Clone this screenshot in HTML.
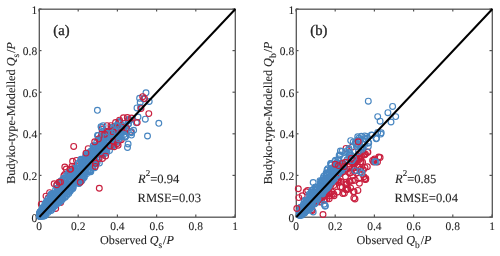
<!DOCTYPE html>
<html><head><meta charset="utf-8"><style>
html,body{margin:0;padding:0;background:#fff;width:500px;height:256px;overflow:hidden}
svg{display:block;filter:blur(0.45px)}
text{font-family:"Liberation Serif",serif;fill:#262626;text-rendering:geometricPrecision;stroke:#262626;stroke-width:0.1px}
.tk{font-size:11.5px}
.lb{font-size:12.2px}
.pl{font-size:14.6px;stroke-width:0.35px}
.st{font-size:12.6px}
</style></head><body>
<svg width="500" height="256" viewBox="0 0 500 256">
<rect x="39.3" y="9.2" width="196" height="208" fill="none" stroke="#555" stroke-width="1.3"/>
<line x1="39.0" y1="217" x2="39.0" y2="214.5" stroke="#555" stroke-width="1.2"/>
<line x1="39.0" y1="9" x2="39.0" y2="11.5" stroke="#555" stroke-width="1.2"/>
<line x1="39" y1="217.0" x2="41.5" y2="217.0" stroke="#555" stroke-width="1.2"/>
<line x1="235" y1="217.0" x2="232.5" y2="217.0" stroke="#555" stroke-width="1.2"/>
<text x="39.0" y="230.3" text-anchor="middle" class="tk">0</text>
<text x="37.2" y="221.6" text-anchor="end" class="tk">0</text>
<line x1="78.2" y1="217" x2="78.2" y2="214.5" stroke="#555" stroke-width="1.2"/>
<line x1="78.2" y1="9" x2="78.2" y2="11.5" stroke="#555" stroke-width="1.2"/>
<line x1="39" y1="175.4" x2="41.5" y2="175.4" stroke="#555" stroke-width="1.2"/>
<line x1="235" y1="175.4" x2="232.5" y2="175.4" stroke="#555" stroke-width="1.2"/>
<text x="78.2" y="230.3" text-anchor="middle" class="tk">0.2</text>
<text x="37.2" y="180.0" text-anchor="end" class="tk">0.2</text>
<line x1="117.4" y1="217" x2="117.4" y2="214.5" stroke="#555" stroke-width="1.2"/>
<line x1="117.4" y1="9" x2="117.4" y2="11.5" stroke="#555" stroke-width="1.2"/>
<line x1="39" y1="133.8" x2="41.5" y2="133.8" stroke="#555" stroke-width="1.2"/>
<line x1="235" y1="133.8" x2="232.5" y2="133.8" stroke="#555" stroke-width="1.2"/>
<text x="117.4" y="230.3" text-anchor="middle" class="tk">0.4</text>
<text x="37.2" y="138.4" text-anchor="end" class="tk">0.4</text>
<line x1="156.6" y1="217" x2="156.6" y2="214.5" stroke="#555" stroke-width="1.2"/>
<line x1="156.6" y1="9" x2="156.6" y2="11.5" stroke="#555" stroke-width="1.2"/>
<line x1="39" y1="92.2" x2="41.5" y2="92.2" stroke="#555" stroke-width="1.2"/>
<line x1="235" y1="92.2" x2="232.5" y2="92.2" stroke="#555" stroke-width="1.2"/>
<text x="156.6" y="230.3" text-anchor="middle" class="tk">0.6</text>
<text x="37.2" y="96.8" text-anchor="end" class="tk">0.6</text>
<line x1="195.8" y1="217" x2="195.8" y2="214.5" stroke="#555" stroke-width="1.2"/>
<line x1="195.8" y1="9" x2="195.8" y2="11.5" stroke="#555" stroke-width="1.2"/>
<line x1="39" y1="50.6" x2="41.5" y2="50.6" stroke="#555" stroke-width="1.2"/>
<line x1="235" y1="50.6" x2="232.5" y2="50.6" stroke="#555" stroke-width="1.2"/>
<text x="195.8" y="230.3" text-anchor="middle" class="tk">0.8</text>
<text x="37.2" y="55.2" text-anchor="end" class="tk">0.8</text>
<line x1="235.0" y1="217" x2="235.0" y2="214.5" stroke="#555" stroke-width="1.2"/>
<line x1="235.0" y1="9" x2="235.0" y2="11.5" stroke="#555" stroke-width="1.2"/>
<line x1="39" y1="9.0" x2="41.5" y2="9.0" stroke="#555" stroke-width="1.2"/>
<line x1="235" y1="9.0" x2="232.5" y2="9.0" stroke="#555" stroke-width="1.2"/>
<text x="235.0" y="230.3" text-anchor="middle" class="tk">1</text>
<text x="37.2" y="13.6" text-anchor="end" class="tk">1</text>
<g fill="none" stroke="#c9203f" stroke-width="1.15">
<circle cx="48.2" cy="197.9" r="2.9"/>
<circle cx="52.7" cy="194.5" r="2.9"/>
<circle cx="119.3" cy="140.2" r="2.9"/>
<circle cx="60.9" cy="184.6" r="2.9"/>
<circle cx="121.3" cy="139.7" r="2.9"/>
<circle cx="55.7" cy="208.4" r="2.9"/>
<circle cx="39.8" cy="216.2" r="2.9"/>
<circle cx="73.6" cy="168.4" r="2.9"/>
<circle cx="49.8" cy="199.6" r="2.9"/>
<circle cx="88.2" cy="148.6" r="2.9"/>
<circle cx="72.0" cy="166.3" r="2.9"/>
<circle cx="71.4" cy="171.5" r="2.9"/>
<circle cx="63.9" cy="175.7" r="2.9"/>
<circle cx="62.1" cy="180.5" r="2.9"/>
<circle cx="44.0" cy="209.6" r="2.9"/>
<circle cx="99.3" cy="188.2" r="2.9"/>
<circle cx="73.7" cy="146.4" r="2.9"/>
<circle cx="72.6" cy="161.2" r="2.9"/>
<circle cx="76.5" cy="160.4" r="2.9"/>
<circle cx="64.8" cy="167.0" r="2.9"/>
<circle cx="66.3" cy="169.0" r="2.9"/>
<circle cx="64.8" cy="174.5" r="2.9"/>
<circle cx="54.2" cy="183.8" r="2.9"/>
<circle cx="46.0" cy="196.1" r="2.9"/>
<circle cx="49.6" cy="192.6" r="2.9"/>
<circle cx="41.3" cy="204.3" r="2.9"/>
<circle cx="63.6" cy="194.9" r="2.9"/>
<circle cx="60.7" cy="202.5" r="2.9"/>
</g>
<g fill="none" stroke="#4886c1" stroke-width="1.15">
<circle cx="103.7" cy="146.2" r="2.9"/>
<circle cx="123.7" cy="131.4" r="2.9"/>
<circle cx="101.4" cy="136.9" r="2.9"/>
<circle cx="51.1" cy="194.1" r="2.9"/>
<circle cx="103.9" cy="151.1" r="2.9"/>
<circle cx="90.1" cy="156.9" r="2.9"/>
<circle cx="93.3" cy="155.8" r="2.9"/>
<circle cx="69.3" cy="180.7" r="2.9"/>
<circle cx="69.4" cy="186.9" r="2.9"/>
<circle cx="88.2" cy="158.4" r="2.9"/>
<circle cx="83.6" cy="167.2" r="2.9"/>
<circle cx="80.7" cy="160.2" r="2.9"/>
<circle cx="105.5" cy="138.3" r="2.9"/>
<circle cx="95.6" cy="163.1" r="2.9"/>
<circle cx="90.9" cy="151.3" r="2.9"/>
<circle cx="64.3" cy="192.2" r="2.9"/>
<circle cx="104.3" cy="152.5" r="2.9"/>
<circle cx="69.9" cy="185.4" r="2.9"/>
<circle cx="48.7" cy="204.1" r="2.9"/>
<circle cx="115.3" cy="127.7" r="2.9"/>
<circle cx="118.7" cy="130.0" r="2.9"/>
<circle cx="51.2" cy="210.4" r="2.9"/>
<circle cx="40.5" cy="211.6" r="2.9"/>
<circle cx="53.2" cy="206.6" r="2.9"/>
<circle cx="88.1" cy="161.0" r="2.9"/>
<circle cx="86.2" cy="164.9" r="2.9"/>
<circle cx="100.1" cy="146.6" r="2.9"/>
<circle cx="43.3" cy="216.2" r="2.9"/>
<circle cx="45.5" cy="205.6" r="2.9"/>
<circle cx="76.7" cy="171.7" r="2.9"/>
<circle cx="65.5" cy="193.6" r="2.9"/>
<circle cx="113.2" cy="138.0" r="2.9"/>
<circle cx="67.9" cy="174.5" r="2.9"/>
<circle cx="41.7" cy="212.6" r="2.9"/>
<circle cx="105.0" cy="133.0" r="2.9"/>
<circle cx="40.4" cy="211.8" r="2.9"/>
<circle cx="89.9" cy="163.4" r="2.9"/>
<circle cx="87.9" cy="171.6" r="2.9"/>
<circle cx="80.4" cy="166.6" r="2.9"/>
<circle cx="60.1" cy="200.0" r="2.9"/>
<circle cx="124.1" cy="129.2" r="2.9"/>
<circle cx="114.9" cy="130.1" r="2.9"/>
<circle cx="61.6" cy="198.9" r="2.9"/>
<circle cx="79.4" cy="183.1" r="2.9"/>
<circle cx="73.3" cy="173.9" r="2.9"/>
<circle cx="48.2" cy="198.9" r="2.9"/>
<circle cx="58.5" cy="196.3" r="2.9"/>
<circle cx="50.0" cy="203.8" r="2.9"/>
<circle cx="69.2" cy="181.8" r="2.9"/>
<circle cx="71.4" cy="186.1" r="2.9"/>
<circle cx="53.1" cy="200.3" r="2.9"/>
<circle cx="116.4" cy="137.1" r="2.9"/>
<circle cx="97.4" cy="150.8" r="2.9"/>
<circle cx="44.1" cy="213.7" r="2.9"/>
<circle cx="87.6" cy="157.3" r="2.9"/>
<circle cx="111.6" cy="146.6" r="2.9"/>
<circle cx="70.9" cy="187.3" r="2.9"/>
<circle cx="58.1" cy="188.4" r="2.9"/>
<circle cx="42.5" cy="212.2" r="2.9"/>
<circle cx="109.2" cy="135.8" r="2.9"/>
<circle cx="52.3" cy="201.9" r="2.9"/>
<circle cx="118.1" cy="134.7" r="2.9"/>
<circle cx="108.3" cy="140.0" r="2.9"/>
<circle cx="48.0" cy="212.6" r="2.9"/>
<circle cx="74.7" cy="173.1" r="2.9"/>
<circle cx="102.1" cy="150.3" r="2.9"/>
<circle cx="75.2" cy="176.2" r="2.9"/>
<circle cx="61.0" cy="185.4" r="2.9"/>
<circle cx="111.3" cy="127.5" r="2.9"/>
<circle cx="96.6" cy="152.3" r="2.9"/>
<circle cx="112.2" cy="130.1" r="2.9"/>
<circle cx="86.1" cy="163.9" r="2.9"/>
<circle cx="99.2" cy="154.9" r="2.9"/>
<circle cx="87.6" cy="162.7" r="2.9"/>
<circle cx="63.1" cy="193.2" r="2.9"/>
<circle cx="106.1" cy="147.9" r="2.9"/>
<circle cx="87.7" cy="153.3" r="2.9"/>
<circle cx="103.0" cy="154.7" r="2.9"/>
<circle cx="40.2" cy="215.9" r="2.9"/>
<circle cx="75.6" cy="179.4" r="2.9"/>
<circle cx="119.0" cy="136.2" r="2.9"/>
<circle cx="118.6" cy="122.6" r="2.9"/>
<circle cx="52.8" cy="201.9" r="2.9"/>
<circle cx="55.0" cy="202.4" r="2.9"/>
<circle cx="45.6" cy="214.5" r="2.9"/>
<circle cx="87.3" cy="154.9" r="2.9"/>
<circle cx="112.6" cy="141.7" r="2.9"/>
<circle cx="45.5" cy="205.3" r="2.9"/>
<circle cx="84.0" cy="164.8" r="2.9"/>
<circle cx="80.0" cy="172.0" r="2.9"/>
<circle cx="98.4" cy="152.3" r="2.9"/>
<circle cx="102.1" cy="154.5" r="2.9"/>
<circle cx="96.8" cy="142.0" r="2.9"/>
<circle cx="85.6" cy="165.8" r="2.9"/>
<circle cx="67.1" cy="193.8" r="2.9"/>
<circle cx="93.1" cy="156.8" r="2.9"/>
<circle cx="58.9" cy="202.6" r="2.9"/>
<circle cx="49.7" cy="209.8" r="2.9"/>
<circle cx="109.7" cy="144.9" r="2.9"/>
<circle cx="46.9" cy="211.1" r="2.9"/>
<circle cx="129.9" cy="120.2" r="2.9"/>
<circle cx="116.8" cy="141.4" r="2.9"/>
<circle cx="56.1" cy="199.0" r="2.9"/>
<circle cx="118.7" cy="122.3" r="2.9"/>
<circle cx="39.8" cy="213.0" r="2.9"/>
<circle cx="98.3" cy="148.3" r="2.9"/>
<circle cx="75.0" cy="168.3" r="2.9"/>
<circle cx="42.7" cy="215.5" r="2.9"/>
<circle cx="114.6" cy="142.5" r="2.9"/>
<circle cx="68.8" cy="193.6" r="2.9"/>
<circle cx="84.8" cy="169.5" r="2.9"/>
<circle cx="87.1" cy="167.6" r="2.9"/>
<circle cx="60.8" cy="196.4" r="2.9"/>
<circle cx="61.3" cy="185.5" r="2.9"/>
<circle cx="103.2" cy="149.4" r="2.9"/>
<circle cx="84.9" cy="162.7" r="2.9"/>
<circle cx="68.4" cy="187.0" r="2.9"/>
<circle cx="84.2" cy="176.8" r="2.9"/>
<circle cx="78.8" cy="178.9" r="2.9"/>
<circle cx="59.6" cy="196.2" r="2.9"/>
<circle cx="106.8" cy="151.1" r="2.9"/>
<circle cx="92.6" cy="160.1" r="2.9"/>
<circle cx="39.8" cy="216.2" r="2.9"/>
<circle cx="62.5" cy="195.8" r="2.9"/>
<circle cx="70.7" cy="185.3" r="2.9"/>
<circle cx="106.5" cy="131.4" r="2.9"/>
<circle cx="95.3" cy="147.6" r="2.9"/>
<circle cx="92.9" cy="154.7" r="2.9"/>
<circle cx="48.9" cy="200.4" r="2.9"/>
<circle cx="117.0" cy="141.1" r="2.9"/>
<circle cx="100.8" cy="150.1" r="2.9"/>
<circle cx="93.3" cy="159.5" r="2.9"/>
<circle cx="97.6" cy="150.7" r="2.9"/>
<circle cx="53.5" cy="198.4" r="2.9"/>
<circle cx="61.1" cy="201.0" r="2.9"/>
<circle cx="94.6" cy="159.8" r="2.9"/>
<circle cx="102.4" cy="144.4" r="2.9"/>
<circle cx="121.2" cy="131.7" r="2.9"/>
<circle cx="103.0" cy="136.0" r="2.9"/>
<circle cx="67.9" cy="186.5" r="2.9"/>
<circle cx="98.7" cy="145.1" r="2.9"/>
<circle cx="81.0" cy="159.2" r="2.9"/>
<circle cx="73.2" cy="187.8" r="2.9"/>
<circle cx="123.4" cy="128.8" r="2.9"/>
<circle cx="77.0" cy="168.3" r="2.9"/>
<circle cx="106.7" cy="145.2" r="2.9"/>
<circle cx="39.8" cy="214.7" r="2.9"/>
<circle cx="85.5" cy="163.2" r="2.9"/>
<circle cx="113.8" cy="133.3" r="2.9"/>
<circle cx="96.5" cy="163.8" r="2.9"/>
<circle cx="81.3" cy="180.5" r="2.9"/>
<circle cx="100.0" cy="147.0" r="2.9"/>
<circle cx="103.6" cy="138.9" r="2.9"/>
<circle cx="86.2" cy="154.9" r="2.9"/>
<circle cx="56.1" cy="203.4" r="2.9"/>
<circle cx="64.8" cy="178.4" r="2.9"/>
<circle cx="61.1" cy="181.6" r="2.9"/>
<circle cx="122.6" cy="125.6" r="2.9"/>
<circle cx="84.5" cy="160.2" r="2.9"/>
<circle cx="72.2" cy="177.1" r="2.9"/>
<circle cx="82.7" cy="170.4" r="2.9"/>
<circle cx="111.3" cy="131.1" r="2.9"/>
<circle cx="78.3" cy="163.1" r="2.9"/>
<circle cx="114.8" cy="127.2" r="2.9"/>
<circle cx="80.9" cy="174.0" r="2.9"/>
<circle cx="92.1" cy="162.0" r="2.9"/>
<circle cx="119.9" cy="133.7" r="2.9"/>
<circle cx="55.5" cy="196.0" r="2.9"/>
<circle cx="43.4" cy="209.9" r="2.9"/>
<circle cx="59.9" cy="190.7" r="2.9"/>
<circle cx="70.1" cy="190.1" r="2.9"/>
<circle cx="81.2" cy="173.4" r="2.9"/>
<circle cx="56.3" cy="196.6" r="2.9"/>
<circle cx="112.0" cy="143.7" r="2.9"/>
<circle cx="69.4" cy="190.0" r="2.9"/>
<circle cx="79.4" cy="181.8" r="2.9"/>
<circle cx="68.4" cy="188.3" r="2.9"/>
<circle cx="95.1" cy="151.7" r="2.9"/>
<circle cx="70.0" cy="179.7" r="2.9"/>
<circle cx="62.8" cy="191.8" r="2.9"/>
<circle cx="48.2" cy="208.9" r="2.9"/>
<circle cx="125.8" cy="129.8" r="2.9"/>
<circle cx="116.7" cy="141.6" r="2.9"/>
<circle cx="115.7" cy="126.3" r="2.9"/>
<circle cx="53.0" cy="207.0" r="2.9"/>
<circle cx="52.6" cy="193.4" r="2.9"/>
<circle cx="108.0" cy="134.6" r="2.9"/>
<circle cx="65.2" cy="197.2" r="2.9"/>
<circle cx="122.2" cy="128.3" r="2.9"/>
<circle cx="128.4" cy="123.8" r="2.9"/>
<circle cx="74.7" cy="181.0" r="2.9"/>
<circle cx="48.5" cy="202.3" r="2.9"/>
<circle cx="60.6" cy="189.0" r="2.9"/>
<circle cx="84.3" cy="165.2" r="2.9"/>
<circle cx="108.8" cy="140.6" r="2.9"/>
<circle cx="55.0" cy="203.4" r="2.9"/>
<circle cx="80.4" cy="176.9" r="2.9"/>
<circle cx="113.5" cy="144.9" r="2.9"/>
<circle cx="69.7" cy="191.1" r="2.9"/>
<circle cx="81.8" cy="170.8" r="2.9"/>
<circle cx="84.0" cy="169.6" r="2.9"/>
<circle cx="84.7" cy="173.8" r="2.9"/>
<circle cx="43.2" cy="210.0" r="2.9"/>
<circle cx="109.5" cy="136.2" r="2.9"/>
<circle cx="53.5" cy="202.9" r="2.9"/>
<circle cx="57.2" cy="197.9" r="2.9"/>
<circle cx="83.0" cy="166.4" r="2.9"/>
<circle cx="100.7" cy="152.2" r="2.9"/>
<circle cx="118.4" cy="123.6" r="2.9"/>
<circle cx="78.4" cy="180.5" r="2.9"/>
<circle cx="50.0" cy="201.3" r="2.9"/>
<circle cx="129.0" cy="119.5" r="2.9"/>
<circle cx="83.6" cy="161.3" r="2.9"/>
<circle cx="45.3" cy="211.3" r="2.9"/>
<circle cx="59.9" cy="183.9" r="2.9"/>
<circle cx="69.1" cy="178.7" r="2.9"/>
<circle cx="93.0" cy="156.9" r="2.9"/>
<circle cx="117.6" cy="137.4" r="2.9"/>
<circle cx="124.0" cy="123.5" r="2.9"/>
<circle cx="73.4" cy="185.8" r="2.9"/>
<circle cx="77.1" cy="181.2" r="2.9"/>
<circle cx="75.2" cy="181.6" r="2.9"/>
<circle cx="66.5" cy="175.5" r="2.9"/>
<circle cx="55.5" cy="195.7" r="2.9"/>
<circle cx="57.0" cy="188.2" r="2.9"/>
<circle cx="91.7" cy="164.2" r="2.9"/>
<circle cx="93.0" cy="153.7" r="2.9"/>
<circle cx="45.9" cy="206.4" r="2.9"/>
<circle cx="97.0" cy="157.7" r="2.9"/>
<circle cx="49.2" cy="208.7" r="2.9"/>
<circle cx="70.2" cy="186.1" r="2.9"/>
<circle cx="82.1" cy="166.5" r="2.9"/>
<circle cx="83.0" cy="160.4" r="2.9"/>
<circle cx="80.1" cy="174.5" r="2.9"/>
<circle cx="128.2" cy="119.8" r="2.9"/>
<circle cx="48.1" cy="209.9" r="2.9"/>
<circle cx="50.1" cy="198.8" r="2.9"/>
<circle cx="85.6" cy="165.4" r="2.9"/>
<circle cx="41.7" cy="215.9" r="2.9"/>
<circle cx="79.0" cy="183.4" r="2.9"/>
<circle cx="88.6" cy="157.9" r="2.9"/>
<circle cx="113.8" cy="145.5" r="2.9"/>
<circle cx="46.6" cy="201.1" r="2.9"/>
<circle cx="53.0" cy="194.3" r="2.9"/>
<circle cx="82.2" cy="162.9" r="2.9"/>
<circle cx="112.9" cy="127.2" r="2.9"/>
<circle cx="103.9" cy="146.0" r="2.9"/>
<circle cx="81.8" cy="180.7" r="2.9"/>
<circle cx="63.5" cy="178.3" r="2.9"/>
<circle cx="39.8" cy="213.2" r="2.9"/>
<circle cx="53.2" cy="205.7" r="2.9"/>
<circle cx="69.4" cy="173.8" r="2.9"/>
<circle cx="86.0" cy="159.9" r="2.9"/>
<circle cx="75.9" cy="171.5" r="2.9"/>
<circle cx="100.7" cy="153.7" r="2.9"/>
<circle cx="72.7" cy="188.8" r="2.9"/>
<circle cx="69.6" cy="185.2" r="2.9"/>
<circle cx="99.7" cy="140.5" r="2.9"/>
<circle cx="93.1" cy="147.7" r="2.9"/>
<circle cx="113.7" cy="142.1" r="2.9"/>
<circle cx="102.1" cy="147.3" r="2.9"/>
<circle cx="60.9" cy="181.0" r="2.9"/>
<circle cx="105.4" cy="150.5" r="2.9"/>
<circle cx="117.7" cy="138.1" r="2.9"/>
<circle cx="94.8" cy="160.2" r="2.9"/>
<circle cx="114.1" cy="127.7" r="2.9"/>
<circle cx="90.6" cy="161.7" r="2.9"/>
<circle cx="47.1" cy="202.0" r="2.9"/>
<circle cx="54.4" cy="206.0" r="2.9"/>
<circle cx="62.8" cy="187.3" r="2.9"/>
<circle cx="81.9" cy="179.3" r="2.9"/>
<circle cx="75.1" cy="170.0" r="2.9"/>
<circle cx="44.9" cy="206.5" r="2.9"/>
<circle cx="105.7" cy="133.2" r="2.9"/>
<circle cx="65.3" cy="194.0" r="2.9"/>
<circle cx="84.3" cy="171.1" r="2.9"/>
<circle cx="122.1" cy="125.5" r="2.9"/>
<circle cx="39.8" cy="212.3" r="2.9"/>
<circle cx="119.6" cy="134.6" r="2.9"/>
<circle cx="111.3" cy="140.1" r="2.9"/>
<circle cx="83.0" cy="162.5" r="2.9"/>
<circle cx="50.7" cy="195.3" r="2.9"/>
<circle cx="94.2" cy="153.4" r="2.9"/>
<circle cx="120.8" cy="133.0" r="2.9"/>
<circle cx="104.3" cy="147.4" r="2.9"/>
<circle cx="101.1" cy="154.8" r="2.9"/>
<circle cx="109.0" cy="140.6" r="2.9"/>
<circle cx="106.4" cy="150.9" r="2.9"/>
<circle cx="84.4" cy="168.4" r="2.9"/>
<circle cx="39.8" cy="213.4" r="2.9"/>
<circle cx="69.7" cy="173.2" r="2.9"/>
<circle cx="42.0" cy="209.1" r="2.9"/>
<circle cx="72.4" cy="178.8" r="2.9"/>
<circle cx="41.8" cy="216.2" r="2.9"/>
<circle cx="97.0" cy="150.3" r="2.9"/>
<circle cx="113.6" cy="143.7" r="2.9"/>
<circle cx="98.3" cy="158.0" r="2.9"/>
<circle cx="90.4" cy="170.6" r="2.9"/>
<circle cx="107.7" cy="135.5" r="2.9"/>
<circle cx="83.1" cy="177.4" r="2.9"/>
<circle cx="57.4" cy="192.5" r="2.9"/>
<circle cx="46.7" cy="202.3" r="2.9"/>
<circle cx="102.1" cy="145.2" r="2.9"/>
<circle cx="108.5" cy="141.4" r="2.9"/>
<circle cx="114.3" cy="131.3" r="2.9"/>
<circle cx="116.9" cy="132.3" r="2.9"/>
<circle cx="92.7" cy="167.4" r="2.9"/>
<circle cx="84.8" cy="171.9" r="2.9"/>
<circle cx="64.5" cy="196.8" r="2.9"/>
<circle cx="114.0" cy="141.7" r="2.9"/>
<circle cx="88.3" cy="171.4" r="2.9"/>
<circle cx="81.1" cy="171.1" r="2.9"/>
<circle cx="73.3" cy="180.6" r="2.9"/>
<circle cx="82.6" cy="163.7" r="2.9"/>
<circle cx="102.3" cy="139.6" r="2.9"/>
<circle cx="89.9" cy="171.7" r="2.9"/>
<circle cx="43.1" cy="208.3" r="2.9"/>
<circle cx="94.8" cy="149.5" r="2.9"/>
<circle cx="112.4" cy="140.6" r="2.9"/>
<circle cx="103.7" cy="141.1" r="2.9"/>
<circle cx="85.8" cy="161.5" r="2.9"/>
<circle cx="61.1" cy="183.4" r="2.9"/>
<circle cx="78.8" cy="167.7" r="2.9"/>
<circle cx="53.9" cy="203.8" r="2.9"/>
<circle cx="114.0" cy="141.7" r="2.9"/>
<circle cx="54.9" cy="197.1" r="2.9"/>
<circle cx="88.3" cy="159.5" r="2.9"/>
<circle cx="101.4" cy="136.9" r="2.9"/>
<circle cx="72.7" cy="182.6" r="2.9"/>
<circle cx="87.1" cy="161.3" r="2.9"/>
<circle cx="85.5" cy="168.6" r="2.9"/>
<circle cx="69.8" cy="179.4" r="2.9"/>
<circle cx="115.3" cy="131.1" r="2.9"/>
<circle cx="44.8" cy="215.8" r="2.9"/>
<circle cx="92.2" cy="154.0" r="2.9"/>
<circle cx="66.1" cy="177.9" r="2.9"/>
<circle cx="51.3" cy="196.0" r="2.9"/>
<circle cx="61.2" cy="197.5" r="2.9"/>
<circle cx="99.2" cy="153.4" r="2.9"/>
<circle cx="85.1" cy="162.2" r="2.9"/>
<circle cx="112.6" cy="145.1" r="2.9"/>
<circle cx="55.8" cy="201.1" r="2.9"/>
<circle cx="79.5" cy="180.3" r="2.9"/>
<circle cx="54.2" cy="196.1" r="2.9"/>
<circle cx="57.1" cy="200.9" r="2.9"/>
<circle cx="118.9" cy="127.6" r="2.9"/>
<circle cx="96.1" cy="161.4" r="2.9"/>
<circle cx="67.2" cy="189.2" r="2.9"/>
<circle cx="128.9" cy="120.5" r="2.9"/>
<circle cx="46.9" cy="202.4" r="2.9"/>
<circle cx="102.9" cy="137.0" r="2.9"/>
<circle cx="48.1" cy="211.2" r="2.9"/>
<circle cx="103.0" cy="150.9" r="2.9"/>
<circle cx="90.1" cy="164.0" r="2.9"/>
<circle cx="86.2" cy="153.6" r="2.9"/>
<circle cx="65.0" cy="185.7" r="2.9"/>
<circle cx="82.8" cy="178.4" r="2.9"/>
<circle cx="40.1" cy="213.8" r="2.9"/>
<circle cx="90.5" cy="170.1" r="2.9"/>
<circle cx="76.9" cy="181.5" r="2.9"/>
<circle cx="85.6" cy="158.0" r="2.9"/>
<circle cx="101.0" cy="139.1" r="2.9"/>
<circle cx="93.1" cy="153.2" r="2.9"/>
<circle cx="61.0" cy="193.6" r="2.9"/>
<circle cx="102.7" cy="143.9" r="2.9"/>
<circle cx="68.5" cy="191.6" r="2.9"/>
<circle cx="48.9" cy="210.6" r="2.9"/>
<circle cx="53.3" cy="207.0" r="2.9"/>
<circle cx="101.3" cy="144.8" r="2.9"/>
<circle cx="50.4" cy="206.6" r="2.9"/>
<circle cx="102.3" cy="141.0" r="2.9"/>
<circle cx="48.5" cy="208.6" r="2.9"/>
<circle cx="85.7" cy="156.3" r="2.9"/>
<circle cx="58.5" cy="202.8" r="2.9"/>
<circle cx="40.5" cy="213.5" r="2.9"/>
<circle cx="123.1" cy="130.3" r="2.9"/>
<circle cx="39.8" cy="215.5" r="2.9"/>
<circle cx="64.1" cy="180.9" r="2.9"/>
<circle cx="65.8" cy="178.3" r="2.9"/>
<circle cx="95.6" cy="149.4" r="2.9"/>
<circle cx="79.3" cy="178.0" r="2.9"/>
<circle cx="58.1" cy="203.3" r="2.9"/>
<circle cx="64.8" cy="179.6" r="2.9"/>
<circle cx="40.7" cy="216.2" r="2.9"/>
<circle cx="119.3" cy="133.7" r="2.9"/>
<circle cx="75.5" cy="174.4" r="2.9"/>
<circle cx="42.9" cy="210.5" r="2.9"/>
<circle cx="97.8" cy="148.5" r="2.9"/>
<circle cx="58.9" cy="193.4" r="2.9"/>
<circle cx="59.2" cy="192.0" r="2.9"/>
<circle cx="94.3" cy="151.7" r="2.9"/>
<circle cx="85.3" cy="171.7" r="2.9"/>
<circle cx="55.6" cy="189.7" r="2.9"/>
<circle cx="74.6" cy="170.9" r="2.9"/>
<circle cx="96.1" cy="149.3" r="2.9"/>
<circle cx="47.9" cy="201.1" r="2.9"/>
<circle cx="40.0" cy="215.5" r="2.9"/>
<circle cx="107.9" cy="137.8" r="2.9"/>
<circle cx="44.3" cy="208.4" r="2.9"/>
<circle cx="95.1" cy="145.8" r="2.9"/>
<circle cx="75.4" cy="179.8" r="2.9"/>
<circle cx="68.4" cy="172.7" r="2.9"/>
<circle cx="45.0" cy="214.5" r="2.9"/>
<circle cx="128.5" cy="124.0" r="2.9"/>
<circle cx="86.9" cy="162.8" r="2.9"/>
<circle cx="61.6" cy="199.2" r="2.9"/>
<circle cx="39.8" cy="216.2" r="2.9"/>
<circle cx="78.7" cy="183.1" r="2.9"/>
<circle cx="66.5" cy="177.4" r="2.9"/>
<circle cx="56.2" cy="199.2" r="2.9"/>
<circle cx="81.7" cy="177.2" r="2.9"/>
<circle cx="67.0" cy="188.8" r="2.9"/>
<circle cx="62.6" cy="199.0" r="2.9"/>
<circle cx="62.1" cy="195.8" r="2.9"/>
<circle cx="111.5" cy="145.2" r="2.9"/>
<circle cx="91.4" cy="158.4" r="2.9"/>
<circle cx="65.8" cy="181.3" r="2.9"/>
<circle cx="99.5" cy="142.6" r="2.9"/>
<circle cx="59.9" cy="182.3" r="2.9"/>
<circle cx="104.8" cy="144.2" r="2.9"/>
<circle cx="39.8" cy="213.2" r="2.9"/>
<circle cx="46.4" cy="205.9" r="2.9"/>
<circle cx="39.8" cy="216.2" r="2.9"/>
<circle cx="39.8" cy="216.1" r="2.9"/>
<circle cx="80.9" cy="170.8" r="2.9"/>
<circle cx="50.1" cy="199.7" r="2.9"/>
<circle cx="57.8" cy="190.3" r="2.9"/>
<circle cx="121.3" cy="131.3" r="2.9"/>
<circle cx="50.2" cy="208.2" r="2.9"/>
<circle cx="119.8" cy="121.4" r="2.9"/>
<circle cx="56.6" cy="185.7" r="2.9"/>
<circle cx="115.6" cy="134.7" r="2.9"/>
<circle cx="110.4" cy="133.0" r="2.9"/>
<circle cx="52.0" cy="205.8" r="2.9"/>
<circle cx="116.3" cy="127.6" r="2.9"/>
<circle cx="80.5" cy="173.8" r="2.9"/>
<circle cx="72.3" cy="183.4" r="2.9"/>
<circle cx="112.5" cy="137.6" r="2.9"/>
<circle cx="53.8" cy="195.6" r="2.9"/>
<circle cx="106.1" cy="146.9" r="2.9"/>
<circle cx="100.0" cy="142.4" r="2.9"/>
<circle cx="86.6" cy="173.7" r="2.9"/>
<circle cx="39.8" cy="216.2" r="2.9"/>
<circle cx="103.2" cy="137.0" r="2.9"/>
<circle cx="66.9" cy="195.3" r="2.9"/>
<circle cx="56.9" cy="203.0" r="2.9"/>
<circle cx="75.0" cy="169.5" r="2.9"/>
<circle cx="61.7" cy="185.5" r="2.9"/>
<circle cx="72.1" cy="187.8" r="2.9"/>
<circle cx="79.2" cy="163.7" r="2.9"/>
<circle cx="91.0" cy="152.8" r="2.9"/>
<circle cx="46.6" cy="210.7" r="2.9"/>
<circle cx="100.9" cy="139.3" r="2.9"/>
<circle cx="44.3" cy="206.7" r="2.9"/>
<circle cx="93.2" cy="145.8" r="2.9"/>
<circle cx="90.8" cy="162.3" r="2.9"/>
<circle cx="71.7" cy="171.8" r="2.9"/>
<circle cx="100.8" cy="152.8" r="2.9"/>
<circle cx="85.0" cy="171.4" r="2.9"/>
<circle cx="45.8" cy="204.2" r="2.9"/>
<circle cx="43.8" cy="210.2" r="2.9"/>
<circle cx="45.8" cy="211.8" r="2.9"/>
<circle cx="83.0" cy="178.6" r="2.9"/>
<circle cx="99.7" cy="152.5" r="2.9"/>
<circle cx="108.7" cy="137.8" r="2.9"/>
<circle cx="113.9" cy="129.5" r="2.9"/>
<circle cx="89.6" cy="168.2" r="2.9"/>
<circle cx="103.0" cy="135.4" r="2.9"/>
<circle cx="100.5" cy="139.0" r="2.9"/>
<circle cx="84.2" cy="173.3" r="2.9"/>
<circle cx="51.7" cy="194.1" r="2.9"/>
<circle cx="39.8" cy="216.2" r="2.9"/>
<circle cx="113.4" cy="131.3" r="2.9"/>
<circle cx="51.1" cy="196.9" r="2.9"/>
<circle cx="50.8" cy="206.7" r="2.9"/>
<circle cx="52.2" cy="209.3" r="2.9"/>
<circle cx="70.6" cy="182.1" r="2.9"/>
<circle cx="108.5" cy="132.4" r="2.9"/>
<circle cx="81.4" cy="169.9" r="2.9"/>
<circle cx="87.5" cy="162.0" r="2.9"/>
<circle cx="54.9" cy="206.0" r="2.9"/>
<circle cx="90.1" cy="152.0" r="2.9"/>
<circle cx="40.0" cy="216.2" r="2.9"/>
<circle cx="62.5" cy="199.0" r="2.9"/>
<circle cx="52.9" cy="202.6" r="2.9"/>
<circle cx="84.4" cy="173.1" r="2.9"/>
<circle cx="48.7" cy="203.4" r="2.9"/>
<circle cx="77.1" cy="177.1" r="2.9"/>
<circle cx="70.6" cy="176.9" r="2.9"/>
<circle cx="115.2" cy="139.3" r="2.9"/>
<circle cx="99.7" cy="141.0" r="2.9"/>
<circle cx="92.2" cy="167.4" r="2.9"/>
<circle cx="81.5" cy="164.4" r="2.9"/>
<circle cx="94.7" cy="147.7" r="2.9"/>
<circle cx="126.0" cy="125.9" r="2.9"/>
<circle cx="99.7" cy="138.4" r="2.9"/>
<circle cx="105.5" cy="133.6" r="2.9"/>
<circle cx="62.0" cy="198.4" r="2.9"/>
<circle cx="43.1" cy="212.1" r="2.9"/>
<circle cx="43.8" cy="215.5" r="2.9"/>
<circle cx="91.6" cy="166.0" r="2.9"/>
<circle cx="40.1" cy="215.9" r="2.9"/>
<circle cx="43.4" cy="213.6" r="2.9"/>
<circle cx="63.4" cy="192.0" r="2.9"/>
<circle cx="52.2" cy="201.5" r="2.9"/>
<circle cx="125.9" cy="128.8" r="2.9"/>
<circle cx="66.2" cy="186.1" r="2.9"/>
<circle cx="109.8" cy="141.1" r="2.9"/>
<circle cx="103.0" cy="138.7" r="2.9"/>
<circle cx="103.1" cy="138.8" r="2.9"/>
<circle cx="99.7" cy="149.1" r="2.9"/>
<circle cx="108.0" cy="134.0" r="2.9"/>
<circle cx="60.1" cy="194.8" r="2.9"/>
<circle cx="63.6" cy="194.6" r="2.9"/>
<circle cx="75.5" cy="169.3" r="2.9"/>
<circle cx="47.6" cy="204.7" r="2.9"/>
<circle cx="44.9" cy="203.7" r="2.9"/>
<circle cx="119.0" cy="133.5" r="2.9"/>
<circle cx="39.8" cy="216.1" r="2.9"/>
<circle cx="85.9" cy="169.9" r="2.9"/>
<circle cx="82.6" cy="170.3" r="2.9"/>
<circle cx="53.2" cy="203.2" r="2.9"/>
<circle cx="95.3" cy="151.1" r="2.9"/>
<circle cx="100.4" cy="140.9" r="2.9"/>
<circle cx="103.2" cy="151.0" r="2.9"/>
<circle cx="85.4" cy="158.1" r="2.9"/>
<circle cx="94.2" cy="147.4" r="2.9"/>
<circle cx="74.8" cy="173.3" r="2.9"/>
<circle cx="55.4" cy="198.6" r="2.9"/>
<circle cx="39.8" cy="214.8" r="2.9"/>
<circle cx="115.7" cy="136.0" r="2.9"/>
<circle cx="50.8" cy="200.9" r="2.9"/>
<circle cx="89.4" cy="163.2" r="2.9"/>
<circle cx="84.4" cy="170.6" r="2.9"/>
<circle cx="84.2" cy="177.6" r="2.9"/>
<circle cx="81.8" cy="159.6" r="2.9"/>
<circle cx="42.5" cy="207.7" r="2.9"/>
<circle cx="70.4" cy="190.9" r="2.9"/>
<circle cx="62.7" cy="195.9" r="2.9"/>
<circle cx="45.5" cy="215.0" r="2.9"/>
<circle cx="68.5" cy="175.1" r="2.9"/>
<circle cx="65.2" cy="185.9" r="2.9"/>
<circle cx="100.3" cy="149.7" r="2.9"/>
<circle cx="45.7" cy="208.3" r="2.9"/>
<circle cx="58.9" cy="198.6" r="2.9"/>
<circle cx="97.2" cy="162.3" r="2.9"/>
<circle cx="97.2" cy="145.0" r="2.9"/>
<circle cx="52.3" cy="200.5" r="2.9"/>
<circle cx="102.6" cy="142.2" r="2.9"/>
<circle cx="95.4" cy="161.7" r="2.9"/>
<circle cx="48.0" cy="209.4" r="2.9"/>
<circle cx="102.8" cy="142.8" r="2.9"/>
<circle cx="85.4" cy="170.6" r="2.9"/>
<circle cx="146.0" cy="92.8" r="2.9"/>
<circle cx="139.6" cy="98.3" r="2.9"/>
<circle cx="143.6" cy="99.0" r="2.9"/>
<circle cx="149.2" cy="101.5" r="2.9"/>
<circle cx="140.2" cy="102.4" r="2.9"/>
<circle cx="137.0" cy="107.9" r="2.9"/>
<circle cx="140.6" cy="107.3" r="2.9"/>
<circle cx="145.3" cy="119.2" r="2.9"/>
<circle cx="158.8" cy="123.3" r="2.9"/>
<circle cx="147.5" cy="136.0" r="2.9"/>
<circle cx="128.1" cy="144.0" r="2.9"/>
<circle cx="102.2" cy="131.4" r="2.9"/>
<circle cx="98.2" cy="135.4" r="2.9"/>
<circle cx="127.5" cy="147.5" r="2.9"/>
<circle cx="117.3" cy="143.6" r="2.9"/>
<circle cx="109.5" cy="150.6" r="2.9"/>
<circle cx="106.4" cy="153.0" r="2.9"/>
<circle cx="99.4" cy="163.1" r="2.9"/>
<circle cx="94.7" cy="167.8" r="2.9"/>
<circle cx="90.8" cy="171.7" r="2.9"/>
<circle cx="97.4" cy="110.3" r="2.9"/>
</g>
<g fill="none" stroke-width="1.15">
<circle cx="94.7" cy="141.8" r="2.9" stroke="#c9203f"/>
<circle cx="70.0" cy="169.3" r="2.9" stroke="#c9203f"/>
<circle cx="95.5" cy="163.3" r="2.9" stroke="#c9203f"/>
<circle cx="99.1" cy="158.6" r="2.9" stroke="#c9203f"/>
<circle cx="56.8" cy="184.7" r="2.9" stroke="#c9203f"/>
<circle cx="60.5" cy="182.1" r="2.9" stroke="#c9203f"/>
<circle cx="86.0" cy="153.1" r="2.9" stroke="#c9203f"/>
<circle cx="98.4" cy="138.9" r="2.9" stroke="#c9203f"/>
<circle cx="59.0" cy="182.2" r="2.9" stroke="#c9203f"/>
<circle cx="70.7" cy="169.1" r="2.9" stroke="#c9203f"/>
<circle cx="80.3" cy="182.3" r="2.9" stroke="#c9203f"/>
<circle cx="95.3" cy="166.4" r="2.9" stroke="#c9203f"/>
<circle cx="138.0" cy="117.0" r="2.9" stroke="#4886c1"/>
<circle cx="136.3" cy="122.7" r="2.9" stroke="#4886c1"/>
<circle cx="131.5" cy="132.7" r="2.9" stroke="#4886c1"/>
<circle cx="125.8" cy="136.2" r="2.9" stroke="#4886c1"/>
<circle cx="142.7" cy="96.7" r="2.9" stroke="#c9203f"/>
<circle cx="144.5" cy="98.4" r="2.9" stroke="#c9203f"/>
<circle cx="141.0" cy="108.6" r="2.9" stroke="#c9203f"/>
<circle cx="148.8" cy="113.6" r="2.9" stroke="#c9203f"/>
<circle cx="127.3" cy="117.5" r="2.9" stroke="#c9203f"/>
<circle cx="131.5" cy="118.0" r="2.9" stroke="#c9203f"/>
<circle cx="123.4" cy="117.8" r="2.9" stroke="#c9203f"/>
<circle cx="119.5" cy="120.2" r="2.9" stroke="#c9203f"/>
<circle cx="115.6" cy="122.5" r="2.9" stroke="#c9203f"/>
<circle cx="110.9" cy="125.6" r="2.9" stroke="#c9203f"/>
<circle cx="107.0" cy="125.6" r="2.9" stroke="#c9203f"/>
<circle cx="104.7" cy="134.2" r="2.9" stroke="#c9203f"/>
<circle cx="121.9" cy="127.2" r="2.9" stroke="#c9203f"/>
<circle cx="117.8" cy="128.3" r="2.9" stroke="#c9203f"/>
<circle cx="112.3" cy="131.7" r="2.9" stroke="#c9203f"/>
<circle cx="102.0" cy="129.0" r="2.9" stroke="#c9203f"/>
<circle cx="107.8" cy="132.1" r="2.9" stroke="#c9203f"/>
<circle cx="101.6" cy="134.2" r="2.9" stroke="#c9203f"/>
<circle cx="116.0" cy="130.1" r="2.9" stroke="#c9203f"/>
<circle cx="126.6" cy="128.4" r="2.9" stroke="#c9203f"/>
<circle cx="130.5" cy="131.6" r="2.9" stroke="#c9203f"/>
<circle cx="113.3" cy="141.2" r="2.9" stroke="#c9203f"/>
<circle cx="117.2" cy="143.6" r="2.9" stroke="#c9203f"/>
<circle cx="110.2" cy="146.0" r="2.9" stroke="#c9203f"/>
<circle cx="118.1" cy="145.2" r="2.9" stroke="#c9203f"/>
<circle cx="114.2" cy="146.7" r="2.9" stroke="#c9203f"/>
<circle cx="105.6" cy="156.1" r="2.9" stroke="#c9203f"/>
<circle cx="102.5" cy="158.4" r="2.9" stroke="#c9203f"/>
<circle cx="137.2" cy="122.5" r="2.9" stroke="#c9203f"/>
<circle cx="118.4" cy="125.9" r="2.9" stroke="#4886c1"/>
<circle cx="115.2" cy="130.6" r="2.9" stroke="#4886c1"/>
<circle cx="103.1" cy="125.6" r="2.9" stroke="#4886c1"/>
<circle cx="101.4" cy="127.4" r="2.9" stroke="#4886c1"/>
<circle cx="133.6" cy="130.3" r="2.9" stroke="#4886c1"/>
<circle cx="125.0" cy="136.6" r="2.9" stroke="#4886c1"/>
<circle cx="121.2" cy="136.6" r="2.9" stroke="#4886c1"/>
<circle cx="125.2" cy="137.3" r="2.9" stroke="#4886c1"/>
<circle cx="101.0" cy="126.6" r="2.9" stroke="#4886c1"/>
<circle cx="97.5" cy="135.5" r="2.9" stroke="#4886c1"/>
<circle cx="116.4" cy="125.5" r="2.9" stroke="#4886c1"/>
<circle cx="124.0" cy="134.5" r="2.9" stroke="#4886c1"/>
<circle cx="131.5" cy="131.7" r="2.9" stroke="#4886c1"/>
<circle cx="131.5" cy="135.1" r="2.9" stroke="#4886c1"/>
<circle cx="112.0" cy="133.0" r="2.9" stroke="#4886c1"/>
<circle cx="106.0" cy="137.0" r="2.9" stroke="#4886c1"/>
<circle cx="119.0" cy="139.0" r="2.9" stroke="#4886c1"/>
</g>
<line x1="39.4" y1="217" x2="235.4" y2="9" stroke="#000" stroke-width="2"/>
<text x="137.0" y="244" text-anchor="middle" class="lb">Observed <tspan font-style="italic">Q</tspan><tspan font-size="9.5" dy="4.3">s</tspan><tspan dy="-4.3" dx="0.8">/</tspan><tspan font-style="italic">P</tspan></text>
<text transform="translate(14.5,113) rotate(-90)" text-anchor="middle" class="lb">Budyko-type-Modelled <tspan font-style="italic">Q</tspan><tspan font-size="9.5" dy="4.3">s</tspan><tspan dy="-4.3" dx="0.8">/</tspan><tspan font-style="italic">P</tspan></text>
<text x="53.3" y="35.3" class="pl">(a)</text>
<text x="138" y="182.5" class="st"><tspan font-style="italic">R</tspan><tspan font-size="9" dy="-6.3">2</tspan><tspan dy="6.3">=0.94</tspan></text>
<text x="137.5" y="201.5" class="st">RMSE=0.03</text>
<rect x="296.3" y="9.2" width="196" height="208" fill="none" stroke="#555" stroke-width="1.3"/>
<line x1="296.0" y1="217" x2="296.0" y2="214.5" stroke="#555" stroke-width="1.2"/>
<line x1="296.0" y1="9" x2="296.0" y2="11.5" stroke="#555" stroke-width="1.2"/>
<line x1="296" y1="217.0" x2="298.5" y2="217.0" stroke="#555" stroke-width="1.2"/>
<line x1="492" y1="217.0" x2="489.5" y2="217.0" stroke="#555" stroke-width="1.2"/>
<text x="296.0" y="230.3" text-anchor="middle" class="tk">0</text>
<text x="294.2" y="221.6" text-anchor="end" class="tk">0</text>
<line x1="335.2" y1="217" x2="335.2" y2="214.5" stroke="#555" stroke-width="1.2"/>
<line x1="335.2" y1="9" x2="335.2" y2="11.5" stroke="#555" stroke-width="1.2"/>
<line x1="296" y1="175.4" x2="298.5" y2="175.4" stroke="#555" stroke-width="1.2"/>
<line x1="492" y1="175.4" x2="489.5" y2="175.4" stroke="#555" stroke-width="1.2"/>
<text x="335.2" y="230.3" text-anchor="middle" class="tk">0.2</text>
<text x="294.2" y="180.0" text-anchor="end" class="tk">0.2</text>
<line x1="374.4" y1="217" x2="374.4" y2="214.5" stroke="#555" stroke-width="1.2"/>
<line x1="374.4" y1="9" x2="374.4" y2="11.5" stroke="#555" stroke-width="1.2"/>
<line x1="296" y1="133.8" x2="298.5" y2="133.8" stroke="#555" stroke-width="1.2"/>
<line x1="492" y1="133.8" x2="489.5" y2="133.8" stroke="#555" stroke-width="1.2"/>
<text x="374.4" y="230.3" text-anchor="middle" class="tk">0.4</text>
<text x="294.2" y="138.4" text-anchor="end" class="tk">0.4</text>
<line x1="413.6" y1="217" x2="413.6" y2="214.5" stroke="#555" stroke-width="1.2"/>
<line x1="413.6" y1="9" x2="413.6" y2="11.5" stroke="#555" stroke-width="1.2"/>
<line x1="296" y1="92.2" x2="298.5" y2="92.2" stroke="#555" stroke-width="1.2"/>
<line x1="492" y1="92.2" x2="489.5" y2="92.2" stroke="#555" stroke-width="1.2"/>
<text x="413.6" y="230.3" text-anchor="middle" class="tk">0.6</text>
<text x="294.2" y="96.8" text-anchor="end" class="tk">0.6</text>
<line x1="452.8" y1="217" x2="452.8" y2="214.5" stroke="#555" stroke-width="1.2"/>
<line x1="452.8" y1="9" x2="452.8" y2="11.5" stroke="#555" stroke-width="1.2"/>
<line x1="296" y1="50.6" x2="298.5" y2="50.6" stroke="#555" stroke-width="1.2"/>
<line x1="492" y1="50.6" x2="489.5" y2="50.6" stroke="#555" stroke-width="1.2"/>
<text x="452.8" y="230.3" text-anchor="middle" class="tk">0.8</text>
<text x="294.2" y="55.2" text-anchor="end" class="tk">0.8</text>
<line x1="492.0" y1="217" x2="492.0" y2="214.5" stroke="#555" stroke-width="1.2"/>
<line x1="492.0" y1="9" x2="492.0" y2="11.5" stroke="#555" stroke-width="1.2"/>
<line x1="296" y1="9.0" x2="298.5" y2="9.0" stroke="#555" stroke-width="1.2"/>
<line x1="492" y1="9.0" x2="489.5" y2="9.0" stroke="#555" stroke-width="1.2"/>
<text x="492.0" y="230.3" text-anchor="middle" class="tk">1</text>
<text x="294.2" y="13.6" text-anchor="end" class="tk">1</text>
<g fill="none" stroke="#c9203f" stroke-width="1.15">
<circle cx="350.0" cy="181.5" r="2.9"/>
<circle cx="346.2" cy="189.8" r="2.9"/>
<circle cx="346.0" cy="184.5" r="2.9"/>
<circle cx="326.4" cy="191.6" r="2.9"/>
<circle cx="353.8" cy="163.1" r="2.9"/>
<circle cx="346.8" cy="184.2" r="2.9"/>
<circle cx="358.8" cy="154.6" r="2.9"/>
<circle cx="350.1" cy="169.1" r="2.9"/>
<circle cx="365.0" cy="167.6" r="2.9"/>
<circle cx="333.9" cy="194.3" r="2.9"/>
<circle cx="349.1" cy="181.6" r="2.9"/>
<circle cx="353.1" cy="159.8" r="2.9"/>
<circle cx="326.5" cy="194.0" r="2.9"/>
<circle cx="318.4" cy="200.5" r="2.9"/>
<circle cx="331.3" cy="184.2" r="2.9"/>
<circle cx="357.5" cy="166.9" r="2.9"/>
<circle cx="333.7" cy="185.5" r="2.9"/>
<circle cx="326.1" cy="194.5" r="2.9"/>
<circle cx="328.1" cy="189.1" r="2.9"/>
<circle cx="353.3" cy="160.0" r="2.9"/>
<circle cx="317.1" cy="201.2" r="2.9"/>
<circle cx="320.1" cy="201.9" r="2.9"/>
<circle cx="352.9" cy="161.4" r="2.9"/>
<circle cx="363.5" cy="154.8" r="2.9"/>
<circle cx="331.3" cy="184.0" r="2.9"/>
<circle cx="357.0" cy="161.0" r="2.9"/>
<circle cx="344.4" cy="193.2" r="2.9"/>
<circle cx="330.1" cy="186.7" r="2.9"/>
<circle cx="355.3" cy="180.3" r="2.9"/>
<circle cx="322.5" cy="197.2" r="2.9"/>
<circle cx="350.7" cy="188.1" r="2.9"/>
<circle cx="361.5" cy="152.6" r="2.9"/>
<circle cx="329.5" cy="195.9" r="2.9"/>
<circle cx="353.8" cy="160.4" r="2.9"/>
<circle cx="332.2" cy="194.3" r="2.9"/>
<circle cx="326.7" cy="199.0" r="2.9"/>
<circle cx="315.9" cy="202.3" r="2.9"/>
<circle cx="346.7" cy="169.1" r="2.9"/>
<circle cx="324.5" cy="199.6" r="2.9"/>
<circle cx="329.0" cy="192.8" r="2.9"/>
<circle cx="331.8" cy="191.7" r="2.9"/>
<circle cx="359.4" cy="183.2" r="2.9"/>
<circle cx="322.2" cy="194.6" r="2.9"/>
<circle cx="326.7" cy="189.8" r="2.9"/>
<circle cx="343.1" cy="171.4" r="2.9"/>
<circle cx="319.2" cy="198.9" r="2.9"/>
<circle cx="325.2" cy="194.8" r="2.9"/>
<circle cx="336.4" cy="179.2" r="2.9"/>
<circle cx="342.2" cy="187.3" r="2.9"/>
<circle cx="354.8" cy="163.8" r="2.9"/>
<circle cx="359.3" cy="156.4" r="2.9"/>
<circle cx="361.6" cy="156.2" r="2.9"/>
<circle cx="340.2" cy="172.9" r="2.9"/>
<circle cx="317.3" cy="200.6" r="2.9"/>
<circle cx="362.6" cy="162.2" r="2.9"/>
<circle cx="339.0" cy="173.9" r="2.9"/>
<circle cx="336.2" cy="179.7" r="2.9"/>
<circle cx="352.6" cy="175.5" r="2.9"/>
<circle cx="320.9" cy="196.3" r="2.9"/>
<circle cx="329.2" cy="198.7" r="2.9"/>
<circle cx="363.9" cy="176.7" r="2.9"/>
<circle cx="349.5" cy="173.0" r="2.9"/>
<circle cx="345.5" cy="176.8" r="2.9"/>
<circle cx="327.1" cy="189.2" r="2.9"/>
<circle cx="316.4" cy="201.6" r="2.9"/>
<circle cx="350.5" cy="172.8" r="2.9"/>
<circle cx="340.5" cy="173.6" r="2.9"/>
<circle cx="323.2" cy="194.2" r="2.9"/>
<circle cx="323.7" cy="195.2" r="2.9"/>
<circle cx="353.8" cy="167.5" r="2.9"/>
<circle cx="360.3" cy="161.9" r="2.9"/>
<circle cx="330.4" cy="193.8" r="2.9"/>
<circle cx="338.1" cy="182.6" r="2.9"/>
<circle cx="360.7" cy="169.2" r="2.9"/>
<circle cx="323.5" cy="196.4" r="2.9"/>
<circle cx="349.0" cy="166.4" r="2.9"/>
<circle cx="343.0" cy="170.0" r="2.9"/>
<circle cx="356.5" cy="170.7" r="2.9"/>
<circle cx="350.0" cy="166.5" r="2.9"/>
<circle cx="359.0" cy="153.9" r="2.9"/>
<circle cx="341.1" cy="181.8" r="2.9"/>
<circle cx="352.5" cy="163.5" r="2.9"/>
<circle cx="316.6" cy="202.2" r="2.9"/>
<circle cx="365.5" cy="154.1" r="2.9"/>
<circle cx="337.5" cy="192.0" r="2.9"/>
<circle cx="342.8" cy="193.5" r="2.9"/>
<circle cx="361.1" cy="162.3" r="2.9"/>
<circle cx="324.4" cy="200.2" r="2.9"/>
<circle cx="334.1" cy="195.7" r="2.9"/>
<circle cx="347.6" cy="189.6" r="2.9"/>
<circle cx="338.4" cy="180.2" r="2.9"/>
<circle cx="339.3" cy="181.7" r="2.9"/>
<circle cx="337.5" cy="180.4" r="2.9"/>
<circle cx="316.8" cy="201.3" r="2.9"/>
<circle cx="340.4" cy="186.9" r="2.9"/>
<circle cx="367.6" cy="152.0" r="2.9"/>
<circle cx="380.1" cy="157.5" r="2.9"/>
<circle cx="374.6" cy="159.0" r="2.9"/>
<circle cx="346.0" cy="148.4" r="2.9"/>
<circle cx="352.2" cy="146.9" r="2.9"/>
<circle cx="367.9" cy="152.3" r="2.9"/>
<circle cx="364.8" cy="154.7" r="2.9"/>
<circle cx="378.8" cy="157.0" r="2.9"/>
<circle cx="374.1" cy="160.2" r="2.9"/>
<circle cx="359.3" cy="159.4" r="2.9"/>
<circle cx="359.5" cy="158.1" r="2.9"/>
<circle cx="373.6" cy="162.0" r="2.9"/>
<circle cx="377.5" cy="162.0" r="2.9"/>
<circle cx="367.3" cy="166.7" r="2.9"/>
<circle cx="363.4" cy="169.8" r="2.9"/>
<circle cx="356.4" cy="173.0" r="2.9"/>
<circle cx="358.8" cy="178.4" r="2.9"/>
<circle cx="365.8" cy="178.4" r="2.9"/>
<circle cx="352.5" cy="180.8" r="2.9"/>
<circle cx="346.2" cy="182.3" r="2.9"/>
<circle cx="347.8" cy="188.6" r="2.9"/>
<circle cx="354.1" cy="191.7" r="2.9"/>
<circle cx="365.7" cy="179.5" r="2.9"/>
<circle cx="357.9" cy="190.4" r="2.9"/>
<circle cx="346.5" cy="188.7" r="2.9"/>
<circle cx="353.5" cy="191.8" r="2.9"/>
<circle cx="355.0" cy="198.9" r="2.9"/>
<circle cx="323.0" cy="214.5" r="2.9"/>
<circle cx="311.6" cy="209.8" r="2.9"/>
<circle cx="298.3" cy="188.7" r="2.9"/>
<circle cx="302.2" cy="195.8" r="2.9"/>
<circle cx="306.2" cy="191.8" r="2.9"/>
<circle cx="307.7" cy="190.5" r="2.9"/>
<circle cx="312.4" cy="210.4" r="2.9"/>
<circle cx="353.8" cy="197.9" r="2.9"/>
<circle cx="364.8" cy="179.2" r="2.9"/>
<circle cx="372.6" cy="160.4" r="2.9"/>
</g>
<g fill="none" stroke="#4886c1" stroke-width="1.15">
<circle cx="333.0" cy="174.3" r="2.9"/>
<circle cx="309.4" cy="209.4" r="2.9"/>
<circle cx="302.1" cy="211.5" r="2.9"/>
<circle cx="316.5" cy="187.9" r="2.9"/>
<circle cx="309.3" cy="201.4" r="2.9"/>
<circle cx="321.2" cy="191.4" r="2.9"/>
<circle cx="322.7" cy="181.3" r="2.9"/>
<circle cx="316.1" cy="195.1" r="2.9"/>
<circle cx="310.1" cy="199.0" r="2.9"/>
<circle cx="311.5" cy="207.1" r="2.9"/>
<circle cx="320.3" cy="193.3" r="2.9"/>
<circle cx="329.5" cy="181.6" r="2.9"/>
<circle cx="324.0" cy="179.8" r="2.9"/>
<circle cx="328.7" cy="182.8" r="2.9"/>
<circle cx="306.4" cy="203.5" r="2.9"/>
<circle cx="314.0" cy="194.6" r="2.9"/>
<circle cx="356.3" cy="144.1" r="2.9"/>
<circle cx="300.6" cy="207.3" r="2.9"/>
<circle cx="338.7" cy="158.9" r="2.9"/>
<circle cx="322.2" cy="181.4" r="2.9"/>
<circle cx="301.3" cy="208.8" r="2.9"/>
<circle cx="299.2" cy="214.4" r="2.9"/>
<circle cx="345.7" cy="151.6" r="2.9"/>
<circle cx="303.4" cy="204.4" r="2.9"/>
<circle cx="322.2" cy="192.9" r="2.9"/>
<circle cx="321.5" cy="190.7" r="2.9"/>
<circle cx="348.6" cy="152.4" r="2.9"/>
<circle cx="321.5" cy="193.2" r="2.9"/>
<circle cx="340.2" cy="154.9" r="2.9"/>
<circle cx="325.2" cy="178.9" r="2.9"/>
<circle cx="304.4" cy="207.3" r="2.9"/>
<circle cx="307.5" cy="204.5" r="2.9"/>
<circle cx="302.7" cy="212.3" r="2.9"/>
<circle cx="325.6" cy="185.4" r="2.9"/>
<circle cx="312.4" cy="195.9" r="2.9"/>
<circle cx="327.6" cy="187.7" r="2.9"/>
<circle cx="356.4" cy="143.2" r="2.9"/>
<circle cx="325.2" cy="183.6" r="2.9"/>
<circle cx="357.5" cy="140.3" r="2.9"/>
<circle cx="304.6" cy="207.9" r="2.9"/>
<circle cx="307.9" cy="210.5" r="2.9"/>
<circle cx="341.4" cy="163.8" r="2.9"/>
<circle cx="334.8" cy="167.6" r="2.9"/>
<circle cx="333.5" cy="171.0" r="2.9"/>
<circle cx="337.5" cy="166.9" r="2.9"/>
<circle cx="330.8" cy="163.5" r="2.9"/>
<circle cx="308.2" cy="203.2" r="2.9"/>
<circle cx="351.4" cy="155.5" r="2.9"/>
<circle cx="300.5" cy="215.2" r="2.9"/>
<circle cx="316.0" cy="198.5" r="2.9"/>
<circle cx="326.7" cy="187.2" r="2.9"/>
<circle cx="315.3" cy="192.3" r="2.9"/>
<circle cx="304.8" cy="210.9" r="2.9"/>
<circle cx="321.6" cy="190.5" r="2.9"/>
<circle cx="329.2" cy="173.2" r="2.9"/>
<circle cx="333.1" cy="174.6" r="2.9"/>
<circle cx="339.8" cy="171.7" r="2.9"/>
<circle cx="319.1" cy="191.0" r="2.9"/>
<circle cx="311.2" cy="194.2" r="2.9"/>
<circle cx="300.1" cy="214.4" r="2.9"/>
<circle cx="327.3" cy="174.8" r="2.9"/>
<circle cx="337.6" cy="170.1" r="2.9"/>
<circle cx="309.7" cy="209.1" r="2.9"/>
<circle cx="330.9" cy="181.8" r="2.9"/>
<circle cx="342.0" cy="151.4" r="2.9"/>
<circle cx="349.8" cy="152.9" r="2.9"/>
<circle cx="332.7" cy="178.0" r="2.9"/>
<circle cx="324.2" cy="179.9" r="2.9"/>
<circle cx="306.2" cy="210.4" r="2.9"/>
<circle cx="323.4" cy="188.5" r="2.9"/>
<circle cx="336.8" cy="175.1" r="2.9"/>
<circle cx="337.0" cy="162.4" r="2.9"/>
<circle cx="358.4" cy="144.9" r="2.9"/>
<circle cx="356.7" cy="146.5" r="2.9"/>
<circle cx="324.3" cy="191.0" r="2.9"/>
<circle cx="331.8" cy="169.1" r="2.9"/>
<circle cx="320.9" cy="181.2" r="2.9"/>
<circle cx="338.8" cy="171.1" r="2.9"/>
<circle cx="352.0" cy="160.6" r="2.9"/>
<circle cx="306.3" cy="201.4" r="2.9"/>
<circle cx="335.3" cy="166.3" r="2.9"/>
<circle cx="316.4" cy="192.9" r="2.9"/>
<circle cx="304.7" cy="211.8" r="2.9"/>
<circle cx="302.3" cy="210.1" r="2.9"/>
<circle cx="299.8" cy="213.8" r="2.9"/>
<circle cx="303.3" cy="211.4" r="2.9"/>
<circle cx="329.2" cy="173.5" r="2.9"/>
<circle cx="330.7" cy="177.5" r="2.9"/>
<circle cx="330.0" cy="176.6" r="2.9"/>
<circle cx="315.7" cy="190.6" r="2.9"/>
<circle cx="308.9" cy="194.4" r="2.9"/>
<circle cx="309.0" cy="201.6" r="2.9"/>
<circle cx="323.8" cy="176.3" r="2.9"/>
<circle cx="339.2" cy="155.3" r="2.9"/>
<circle cx="312.7" cy="196.8" r="2.9"/>
<circle cx="335.3" cy="170.1" r="2.9"/>
<circle cx="300.1" cy="213.7" r="2.9"/>
<circle cx="314.5" cy="199.6" r="2.9"/>
<circle cx="300.7" cy="213.3" r="2.9"/>
<circle cx="331.5" cy="171.3" r="2.9"/>
<circle cx="341.9" cy="170.1" r="2.9"/>
<circle cx="314.5" cy="191.8" r="2.9"/>
<circle cx="310.1" cy="198.1" r="2.9"/>
<circle cx="327.8" cy="168.7" r="2.9"/>
<circle cx="321.9" cy="188.3" r="2.9"/>
<circle cx="332.0" cy="181.9" r="2.9"/>
<circle cx="306.5" cy="200.7" r="2.9"/>
<circle cx="358.5" cy="151.5" r="2.9"/>
<circle cx="303.7" cy="206.3" r="2.9"/>
<circle cx="362.1" cy="149.3" r="2.9"/>
<circle cx="303.9" cy="212.7" r="2.9"/>
<circle cx="330.3" cy="181.9" r="2.9"/>
<circle cx="314.6" cy="199.2" r="2.9"/>
<circle cx="353.5" cy="158.2" r="2.9"/>
<circle cx="343.3" cy="165.1" r="2.9"/>
<circle cx="364.7" cy="138.6" r="2.9"/>
<circle cx="299.6" cy="213.2" r="2.9"/>
<circle cx="311.7" cy="203.5" r="2.9"/>
<circle cx="305.2" cy="205.7" r="2.9"/>
<circle cx="311.0" cy="207.8" r="2.9"/>
<circle cx="341.7" cy="166.3" r="2.9"/>
<circle cx="300.6" cy="215.3" r="2.9"/>
<circle cx="338.0" cy="160.0" r="2.9"/>
<circle cx="307.2" cy="205.5" r="2.9"/>
<circle cx="302.6" cy="213.7" r="2.9"/>
<circle cx="328.5" cy="184.7" r="2.9"/>
<circle cx="322.4" cy="181.2" r="2.9"/>
<circle cx="322.8" cy="187.4" r="2.9"/>
<circle cx="332.6" cy="167.6" r="2.9"/>
<circle cx="323.3" cy="178.0" r="2.9"/>
<circle cx="326.8" cy="183.4" r="2.9"/>
<circle cx="309.9" cy="207.9" r="2.9"/>
<circle cx="311.8" cy="193.0" r="2.9"/>
<circle cx="331.3" cy="164.7" r="2.9"/>
<circle cx="371.4" cy="135.0" r="2.9"/>
<circle cx="303.7" cy="210.8" r="2.9"/>
<circle cx="326.4" cy="188.8" r="2.9"/>
<circle cx="304.2" cy="201.2" r="2.9"/>
<circle cx="326.6" cy="181.5" r="2.9"/>
<circle cx="301.1" cy="207.9" r="2.9"/>
<circle cx="351.9" cy="160.6" r="2.9"/>
<circle cx="323.2" cy="184.2" r="2.9"/>
<circle cx="314.6" cy="198.7" r="2.9"/>
<circle cx="326.1" cy="173.1" r="2.9"/>
<circle cx="311.0" cy="203.5" r="2.9"/>
<circle cx="302.1" cy="215.0" r="2.9"/>
<circle cx="330.3" cy="176.6" r="2.9"/>
<circle cx="326.2" cy="173.8" r="2.9"/>
<circle cx="325.4" cy="185.3" r="2.9"/>
<circle cx="328.2" cy="181.7" r="2.9"/>
<circle cx="324.3" cy="183.3" r="2.9"/>
<circle cx="309.7" cy="206.6" r="2.9"/>
<circle cx="340.4" cy="151.0" r="2.9"/>
<circle cx="317.3" cy="197.8" r="2.9"/>
<circle cx="311.6" cy="201.9" r="2.9"/>
<circle cx="348.9" cy="148.5" r="2.9"/>
<circle cx="338.5" cy="174.1" r="2.9"/>
<circle cx="306.0" cy="202.9" r="2.9"/>
<circle cx="311.0" cy="202.8" r="2.9"/>
<circle cx="330.6" cy="174.5" r="2.9"/>
<circle cx="321.1" cy="183.2" r="2.9"/>
<circle cx="299.7" cy="214.2" r="2.9"/>
<circle cx="304.9" cy="200.1" r="2.9"/>
<circle cx="325.4" cy="185.9" r="2.9"/>
<circle cx="316.0" cy="189.7" r="2.9"/>
<circle cx="328.0" cy="186.6" r="2.9"/>
<circle cx="322.5" cy="193.9" r="2.9"/>
<circle cx="331.0" cy="168.7" r="2.9"/>
<circle cx="330.3" cy="169.5" r="2.9"/>
<circle cx="301.2" cy="212.4" r="2.9"/>
<circle cx="302.0" cy="207.4" r="2.9"/>
<circle cx="301.9" cy="213.0" r="2.9"/>
<circle cx="316.7" cy="198.3" r="2.9"/>
<circle cx="300.1" cy="213.0" r="2.9"/>
<circle cx="329.3" cy="185.7" r="2.9"/>
<circle cx="301.2" cy="207.8" r="2.9"/>
<circle cx="310.2" cy="208.4" r="2.9"/>
<circle cx="322.2" cy="193.2" r="2.9"/>
<circle cx="347.4" cy="159.7" r="2.9"/>
<circle cx="323.5" cy="190.2" r="2.9"/>
<circle cx="341.3" cy="169.9" r="2.9"/>
<circle cx="327.0" cy="181.7" r="2.9"/>
<circle cx="329.1" cy="172.6" r="2.9"/>
<circle cx="315.1" cy="203.1" r="2.9"/>
<circle cx="310.8" cy="192.7" r="2.9"/>
<circle cx="311.5" cy="192.0" r="2.9"/>
<circle cx="323.8" cy="186.8" r="2.9"/>
<circle cx="367.6" cy="138.0" r="2.9"/>
<circle cx="304.7" cy="213.1" r="2.9"/>
<circle cx="342.7" cy="163.1" r="2.9"/>
<circle cx="300.3" cy="210.3" r="2.9"/>
<circle cx="315.6" cy="187.5" r="2.9"/>
<circle cx="305.0" cy="211.8" r="2.9"/>
<circle cx="310.2" cy="195.5" r="2.9"/>
<circle cx="312.6" cy="194.3" r="2.9"/>
<circle cx="304.6" cy="207.7" r="2.9"/>
<circle cx="313.8" cy="195.1" r="2.9"/>
<circle cx="330.7" cy="163.8" r="2.9"/>
<circle cx="317.7" cy="195.7" r="2.9"/>
<circle cx="315.7" cy="186.9" r="2.9"/>
<circle cx="362.3" cy="143.6" r="2.9"/>
<circle cx="330.0" cy="170.6" r="2.9"/>
<circle cx="300.4" cy="209.4" r="2.9"/>
<circle cx="311.0" cy="194.7" r="2.9"/>
<circle cx="347.0" cy="160.0" r="2.9"/>
<circle cx="303.2" cy="209.9" r="2.9"/>
<circle cx="301.7" cy="214.0" r="2.9"/>
<circle cx="332.9" cy="178.3" r="2.9"/>
<circle cx="342.6" cy="168.0" r="2.9"/>
<circle cx="301.0" cy="211.7" r="2.9"/>
<circle cx="317.8" cy="198.9" r="2.9"/>
<circle cx="358.8" cy="140.7" r="2.9"/>
<circle cx="340.6" cy="170.9" r="2.9"/>
<circle cx="344.5" cy="167.4" r="2.9"/>
<circle cx="299.5" cy="215.1" r="2.9"/>
<circle cx="321.7" cy="182.5" r="2.9"/>
<circle cx="314.7" cy="203.9" r="2.9"/>
<circle cx="310.2" cy="199.6" r="2.9"/>
<circle cx="336.8" cy="175.8" r="2.9"/>
<circle cx="362.7" cy="147.7" r="2.9"/>
<circle cx="312.5" cy="200.2" r="2.9"/>
<circle cx="321.2" cy="182.9" r="2.9"/>
<circle cx="337.1" cy="170.4" r="2.9"/>
<circle cx="324.5" cy="186.1" r="2.9"/>
<circle cx="307.3" cy="207.5" r="2.9"/>
<circle cx="326.5" cy="173.9" r="2.9"/>
<circle cx="302.5" cy="207.7" r="2.9"/>
<circle cx="303.1" cy="211.3" r="2.9"/>
<circle cx="334.0" cy="177.9" r="2.9"/>
<circle cx="299.1" cy="212.0" r="2.9"/>
<circle cx="303.7" cy="206.4" r="2.9"/>
<circle cx="321.3" cy="190.0" r="2.9"/>
<circle cx="364.9" cy="144.4" r="2.9"/>
<circle cx="319.9" cy="192.5" r="2.9"/>
<circle cx="327.3" cy="185.2" r="2.9"/>
<circle cx="304.7" cy="207.2" r="2.9"/>
<circle cx="325.6" cy="188.7" r="2.9"/>
<circle cx="299.2" cy="212.6" r="2.9"/>
<circle cx="327.6" cy="182.5" r="2.9"/>
<circle cx="336.7" cy="165.2" r="2.9"/>
<circle cx="315.4" cy="198.4" r="2.9"/>
<circle cx="319.5" cy="190.2" r="2.9"/>
<circle cx="326.5" cy="178.8" r="2.9"/>
<circle cx="341.3" cy="170.8" r="2.9"/>
<circle cx="331.1" cy="176.4" r="2.9"/>
<circle cx="334.3" cy="178.1" r="2.9"/>
<circle cx="302.5" cy="212.6" r="2.9"/>
<circle cx="365.9" cy="139.6" r="2.9"/>
<circle cx="360.6" cy="148.1" r="2.9"/>
<circle cx="361.4" cy="136.3" r="2.9"/>
<circle cx="305.9" cy="202.9" r="2.9"/>
<circle cx="316.1" cy="202.1" r="2.9"/>
<circle cx="334.2" cy="178.9" r="2.9"/>
<circle cx="310.2" cy="208.6" r="2.9"/>
<circle cx="312.6" cy="202.0" r="2.9"/>
<circle cx="334.7" cy="170.4" r="2.9"/>
<circle cx="326.0" cy="188.6" r="2.9"/>
<circle cx="327.1" cy="173.0" r="2.9"/>
<circle cx="349.2" cy="155.3" r="2.9"/>
<circle cx="327.0" cy="170.0" r="2.9"/>
<circle cx="372.2" cy="135.1" r="2.9"/>
<circle cx="335.5" cy="160.3" r="2.9"/>
<circle cx="322.0" cy="192.7" r="2.9"/>
<circle cx="314.8" cy="194.1" r="2.9"/>
<circle cx="328.7" cy="184.6" r="2.9"/>
<circle cx="358.8" cy="138.2" r="2.9"/>
<circle cx="331.5" cy="164.9" r="2.9"/>
<circle cx="319.9" cy="185.4" r="2.9"/>
<circle cx="301.4" cy="213.9" r="2.9"/>
<circle cx="302.6" cy="213.0" r="2.9"/>
<circle cx="302.6" cy="210.7" r="2.9"/>
<circle cx="326.4" cy="179.3" r="2.9"/>
<circle cx="308.2" cy="206.2" r="2.9"/>
<circle cx="327.9" cy="179.7" r="2.9"/>
<circle cx="305.6" cy="209.3" r="2.9"/>
<circle cx="307.3" cy="200.9" r="2.9"/>
<circle cx="339.9" cy="163.7" r="2.9"/>
<circle cx="311.9" cy="190.2" r="2.9"/>
<circle cx="324.9" cy="189.7" r="2.9"/>
<circle cx="309.1" cy="207.2" r="2.9"/>
<circle cx="320.0" cy="180.6" r="2.9"/>
<circle cx="334.8" cy="161.4" r="2.9"/>
<circle cx="316.7" cy="188.8" r="2.9"/>
<circle cx="310.3" cy="200.7" r="2.9"/>
<circle cx="337.6" cy="163.7" r="2.9"/>
<circle cx="349.8" cy="157.6" r="2.9"/>
<circle cx="341.7" cy="165.6" r="2.9"/>
<circle cx="300.6" cy="212.7" r="2.9"/>
<circle cx="313.7" cy="189.3" r="2.9"/>
<circle cx="304.2" cy="212.8" r="2.9"/>
<circle cx="320.8" cy="193.5" r="2.9"/>
<circle cx="336.4" cy="167.3" r="2.9"/>
<circle cx="309.8" cy="204.5" r="2.9"/>
<circle cx="299.6" cy="215.4" r="2.9"/>
<circle cx="305.2" cy="207.4" r="2.9"/>
<circle cx="300.5" cy="214.2" r="2.9"/>
<circle cx="340.4" cy="168.9" r="2.9"/>
<circle cx="321.5" cy="189.2" r="2.9"/>
<circle cx="317.9" cy="198.2" r="2.9"/>
<circle cx="312.9" cy="200.8" r="2.9"/>
<circle cx="313.8" cy="199.1" r="2.9"/>
<circle cx="353.3" cy="141.9" r="2.9"/>
<circle cx="327.2" cy="185.1" r="2.9"/>
<circle cx="310.3" cy="200.4" r="2.9"/>
<circle cx="331.4" cy="181.6" r="2.9"/>
<circle cx="305.2" cy="204.4" r="2.9"/>
<circle cx="325.3" cy="183.5" r="2.9"/>
<circle cx="313.8" cy="197.2" r="2.9"/>
<circle cx="344.2" cy="166.9" r="2.9"/>
<circle cx="308.1" cy="205.9" r="2.9"/>
<circle cx="311.6" cy="204.1" r="2.9"/>
<circle cx="340.0" cy="170.3" r="2.9"/>
<circle cx="333.8" cy="171.4" r="2.9"/>
<circle cx="324.1" cy="180.3" r="2.9"/>
<circle cx="311.1" cy="193.7" r="2.9"/>
<circle cx="322.3" cy="192.5" r="2.9"/>
<circle cx="306.0" cy="210.0" r="2.9"/>
<circle cx="311.6" cy="203.6" r="2.9"/>
<circle cx="356.5" cy="146.5" r="2.9"/>
<circle cx="319.7" cy="187.2" r="2.9"/>
<circle cx="326.6" cy="179.2" r="2.9"/>
<circle cx="307.8" cy="201.3" r="2.9"/>
<circle cx="303.5" cy="210.9" r="2.9"/>
<circle cx="341.8" cy="170.3" r="2.9"/>
<circle cx="333.3" cy="179.9" r="2.9"/>
<circle cx="337.2" cy="174.8" r="2.9"/>
<circle cx="344.4" cy="158.4" r="2.9"/>
<circle cx="321.2" cy="192.4" r="2.9"/>
<circle cx="300.8" cy="210.3" r="2.9"/>
<circle cx="323.2" cy="179.8" r="2.9"/>
<circle cx="368.3" cy="101.2" r="2.9"/>
<circle cx="392.6" cy="106.4" r="2.9"/>
<circle cx="387.9" cy="112.7" r="2.9"/>
<circle cx="377.7" cy="116.6" r="2.9"/>
<circle cx="380.1" cy="121.2" r="2.9"/>
<circle cx="395.7" cy="116.6" r="2.9"/>
<circle cx="391.0" cy="122.0" r="2.9"/>
<circle cx="377.7" cy="132.5" r="2.9"/>
<circle cx="380.8" cy="134.1" r="2.9"/>
<circle cx="376.2" cy="138.8" r="2.9"/>
<circle cx="366.8" cy="136.4" r="2.9"/>
<circle cx="368.3" cy="142.7" r="2.9"/>
<circle cx="368.3" cy="146.6" r="2.9"/>
<circle cx="381.2" cy="132.8" r="2.9"/>
<circle cx="376.5" cy="138.3" r="2.9"/>
<circle cx="364.8" cy="135.9" r="2.9"/>
<circle cx="360.1" cy="139.8" r="2.9"/>
<circle cx="368.7" cy="143.0" r="2.9"/>
<circle cx="357.7" cy="136.7" r="2.9"/>
<circle cx="355.4" cy="142.2" r="2.9"/>
<circle cx="361.6" cy="146.9" r="2.9"/>
<circle cx="350.7" cy="140.6" r="2.9"/>
<circle cx="349.1" cy="150.0" r="2.9"/>
<circle cx="374.9" cy="161.7" r="2.9"/>
<circle cx="354.8" cy="170.6" r="2.9"/>
<circle cx="361.9" cy="173.0" r="2.9"/>
<circle cx="376.0" cy="162.0" r="2.9"/>
<circle cx="325.4" cy="205.9" r="2.9"/>
<circle cx="324.9" cy="205.9" r="2.9"/>
<circle cx="313.2" cy="182.5" r="2.9"/>
<circle cx="324.1" cy="204.2" r="2.9"/>
<circle cx="313.2" cy="212.0" r="2.9"/>
<circle cx="360.1" cy="171.4" r="2.9"/>
</g>
<g fill="none" stroke-width="1.15">
<circle cx="345.5" cy="162.2" r="2.9" stroke="#c9203f"/>
<circle cx="338.5" cy="165.6" r="2.9" stroke="#c9203f"/>
<circle cx="344.5" cy="166.4" r="2.9" stroke="#c9203f"/>
<circle cx="358.2" cy="141.7" r="2.9" stroke="#c9203f"/>
<circle cx="351.3" cy="158.5" r="2.9" stroke="#c9203f"/>
<circle cx="342.5" cy="163.4" r="2.9" stroke="#c9203f"/>
<circle cx="335.2" cy="164.2" r="2.9" stroke="#c9203f"/>
<circle cx="296.8" cy="208.5" r="2.9" stroke="#c9203f"/>
<circle cx="298.8" cy="197.6" r="2.9" stroke="#c9203f"/>
</g>
<line x1="296.4" y1="217" x2="492.4" y2="9" stroke="#000" stroke-width="2"/>
<text x="394.0" y="244" text-anchor="middle" class="lb">Observed <tspan font-style="italic">Q</tspan><tspan font-size="9.5" dy="4.3">b</tspan><tspan dy="-4.3" dx="0.8">/</tspan><tspan font-style="italic">P</tspan></text>
<text transform="translate(271.5,113) rotate(-90)" text-anchor="middle" class="lb">Budyko-type-Modelled <tspan font-style="italic">Q</tspan><tspan font-size="9.5" dy="4.3">b</tspan><tspan dy="-4.3" dx="0.8">/</tspan><tspan font-style="italic">P</tspan></text>
<text x="310.3" y="35.3" class="pl">(b)</text>
<text x="395" y="182.5" class="st"><tspan font-style="italic">R</tspan><tspan font-size="9" dy="-6.3">2</tspan><tspan dy="6.3">=0.85</tspan></text>
<text x="394.5" y="201.5" class="st">RMSE=0.04</text>
</svg>
</body></html>
